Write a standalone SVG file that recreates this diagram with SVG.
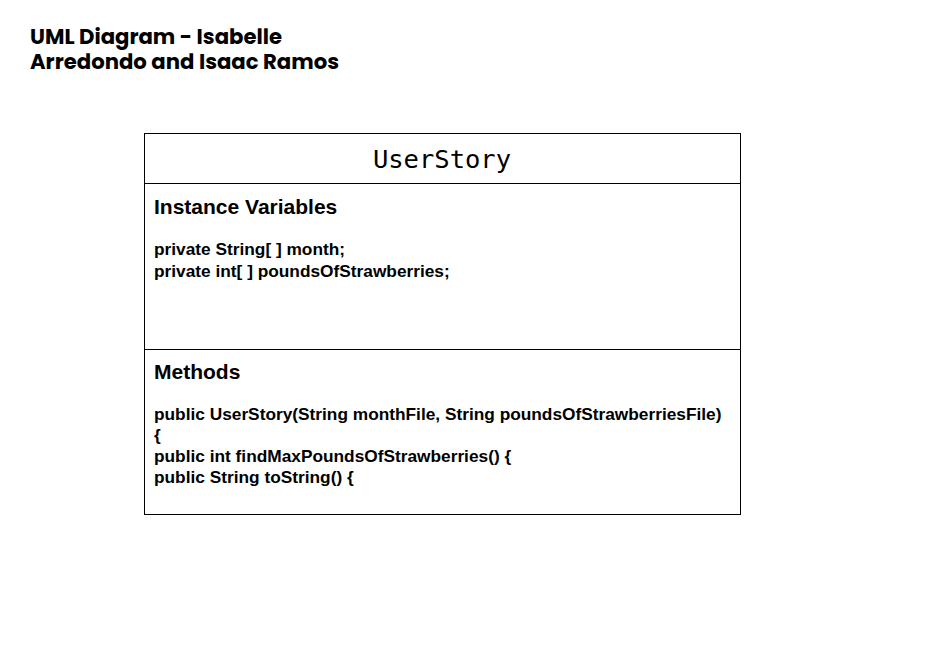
<svg xmlns="http://www.w3.org/2000/svg" width="945" height="648" viewBox="0 0 945 648">
<style>
.title{font-family:Poppins,Inter,"Noto Sans",sans-serif;font-weight:700;font-size:21.2px;fill:#000}
.cls{font-family:"DejaVu Sans Mono","Liberation Mono",monospace;font-size:25.5px;fill:#000}
.head{font-family:"Liberation Sans",Arial,sans-serif;font-weight:700;font-size:21px;fill:#000}
.body{font-family:"Liberation Sans",Arial,sans-serif;font-weight:700;font-size:17.3px;fill:#000}
.box{fill:#fff;stroke:#000;stroke-width:1}
</style>
<rect width="945" height="648" fill="#fff"/>
<g id="title">
<text class="title" x="30" y="44">UML Diagram - Isabelle<tspan x="30" y="69">Arredondo and Isaac Ramos</tspan></text>
</g>
<g id="UserStory">
<rect class="box" x="144.5" y="133.5" width="596" height="381"/>
<line x1="144.5" y1="183.5" x2="740.5" y2="183.5" stroke="#000"/>
<line x1="144.5" y1="349.5" x2="740.5" y2="349.5" stroke="#000"/>
<text class="cls" x="442" y="168" text-anchor="middle">UserStory</text>
<text class="head" x="154" y="214">Instance Variables</text>
<text class="body" x="154" y="255">private String[ ] month;</text>
<text class="body" x="154" y="277">private int[ ] poundsOfStrawberries;</text>
<text class="head" x="154" y="379">Methods</text>
<text class="body" x="154" y="420">public UserStory(String monthFile, String poundsOfStrawberriesFile)</text>
<text class="body" x="154" y="441">{</text>
<text class="body" x="154" y="462">public int findMaxPoundsOfStrawberries() {</text>
<text class="body" x="154" y="483">public String toString() {</text>
</g>
<g id="connectors"></g>
</svg>
